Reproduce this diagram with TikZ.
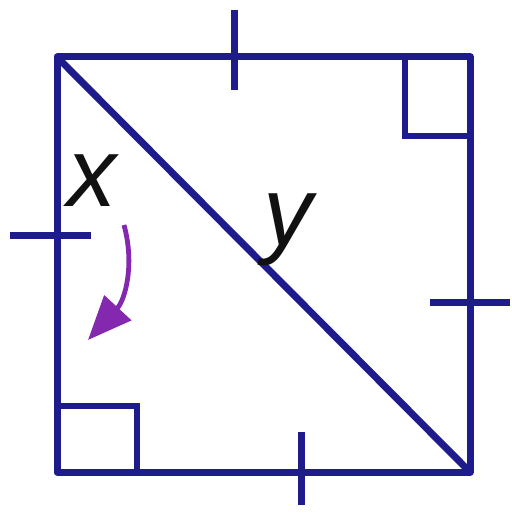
\documentclass[tikz,border=0pt]{standalone}
\usepackage{fontspec}
\setmainfont{Liberation Sans}
\usepackage{xcolor}
\definecolor{cMain}{HTML}{1E1B8C}
\definecolor{cArrow}{HTML}{8428B0}
\definecolor{cText}{HTML}{111111}
\usetikzlibrary{arrows.meta,calc}
\tikzset{
  side-line/.style={draw=cMain,line width=3.5pt,line join=round},
  tick-line/.style={draw=cMain,line width=3.5pt},
  right-mark/.style={draw=cMain,line width=3.3pt},
  var-label/.style={font=\fontsize{49}{49}\selectfont\itshape,text=cText,inner sep=0pt},
  arrow-hint/.style={-{Triangle[length=22pt,width=18pt]},draw=cArrow,line width=2.4pt},
}

\begin{document}
\begin{tikzpicture}[x=0.5pt,y=-0.5pt]
  \useasboundingbox (0,0) rectangle (512,518);
  % corners of the square
  \coordinate (A) at (57,57);
  \coordinate (B) at (470,57);
  \coordinate (C) at (470,472);
  \coordinate (D) at (57,472);
  \draw[side-line] (A) -- (B) -- (C) -- (D) -- cycle;
  \draw[side-line] (A) -- (C);
  % equal-side ticks
  \foreach \name/\p/\q in {top/{234,10}/{234,90}, left/{10,235}/{91,235},
      right/{430,302}/{510,302}, bottom/{301,432}/{301,505}} {
    \coordinate (\name-a) at (\p);
    \coordinate (\name-b) at (\q);
    \draw[tick-line] (\name-a) -- (\name-b);
  }
  % right angles
  \draw[right-mark] (405,57) |- (470,136);
  \draw[right-mark] (57,406) -| (137,472);
  % labels
  \node[var-label] (lx) at (92,181) {x};
  \node[var-label,anchor=north] (ly) at (288,193) {y};
  \coordinate (hint-start) at (124,225);
  \coordinate (hint-end) at (88,340);
  \draw[arrow-hint] (hint-start) .. controls (135,265) and (125,300) .. (hint-end);
\end{tikzpicture}
\end{document}
